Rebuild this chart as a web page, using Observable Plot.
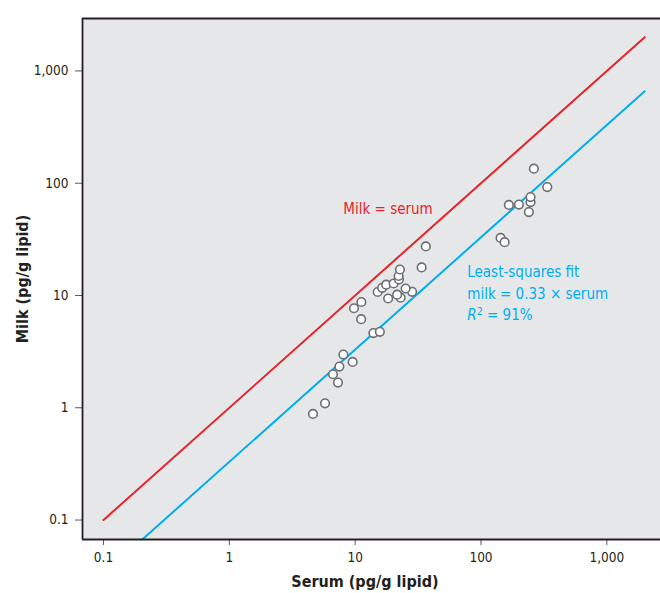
<!DOCTYPE html>
<html><head><meta charset="utf-8">
<script src="https://cdn.jsdelivr.net/npm/d3@7"></script>
<script src="https://cdn.jsdelivr.net/npm/@observablehq/plot@0.6"></script>
<style>body{margin:0;background:#fff;}</style>
</head><body><div id="chart"></div>
<script>
// Serum vs milk concentrations (pg/g lipid)
const serum = [4.62, 5.76, 7.30, 6.66, 7.49, 9.55, 8.06, 13.95, 15.71, 11.16,
  9.78, 11.2, 18.29, 22.98, 21.56, 28.36, 25.18, 15.09, 16.38, 17.63,
  20.22, 22.28, 22.16, 22.69, 33.75, 36.43, 143.1, 154.0, 240.2, 166.6,
  200.0, 247.6, 247.6, 336.3, 263.2];
const milk = [0.882, 1.096, 1.676, 1.988, 2.328, 2.563, 2.978, 4.63, 4.75, 6.15,
  7.70, 8.75, 9.40, 9.56, 10.16, 10.79, 11.54, 10.74, 11.71, 12.48,
  12.79, 13.89, 14.92, 17.05, 17.77, 27.35, 32.56, 29.87, 55.3, 64.1,
  64.5, 67.9, 75.2, 92.4, 134.8];

const xTicks = [0.1, 1, 10, 100, 1000];
const xTickLabels = ["0.1", "1", "10", "100", "1,000"];
const yTicks = [0.1, 1, 10, 100, 1000];
const yTickLabels = ["0.1", "1", "10", "100", "1,000"];

const identityX = [0.1, 2000];
const identityY = [0.1, 2000];
const fitX = [0.2, 2000];
const fitY = [0.066, 660];

const xLabel = "Serum (pg/g lipid)";
const yLabel = "Milk (pg/g lipid)";
const identityNote = [{text: "Milk = serum", x: 8.05, y: 58.6}];
const fitNote = [
  {text: "Least-squares fit", x: 77.8, y: 15.97},
  {text: "milk = 0.33 × serum", x: 77.8, y: 10.23},
  {text: "R2 = 91%", x: 77.8, y: 6.74}
];

const xDomain = [0.0681, 2670];
const yDomain = [0.0671, 2932];

const points = serum.map((s, i) => ({serum: s, milk: milk[i]}));
const idLine = identityX.map((x, i) => ({x, y: identityY[i]}));
const fitLine = fitX.map((x, i) => ({x, y: fitY[i]}));

const RED = "#e5232b";
const BLUE = "#00aeef";

const plot = Plot.plot({
  width: 660,
  height: 593,
  marginLeft: 82,
  marginTop: 18,
  marginBottom: 54,
  marginRight: 0,
  style: {fontFamily: "'Liberation Sans Narrow', 'DejaVu Sans Condensed', 'Roboto', sans-serif", fontSize: "13.5px", background: "white", color: "#231f20"},
  x: {type: "log", domain: xDomain},
  y: {type: "log", domain: yDomain},
  marks: [
    Plot.frame({fill: "#e6e7e8", stroke: "none"}),
    Plot.line(idLine, {x: "x", y: "y", stroke: RED, strokeWidth: 2, clip: "frame"}),
    Plot.line(fitLine, {x: "x", y: "y", stroke: BLUE, strokeWidth: 2, clip: "frame"}),
    Plot.dot(points, {x: "serum", y: "milk", r: 4.3, fill: "white", stroke: "#6d6e71", strokeWidth: 1.6}),
    Plot.text(identityNote, {x: "x", y: "y", text: "text", fill: RED, textAnchor: "start", fontSize: 15}),
    Plot.text(fitNote, {x: "x", y: "y", text: "text", fill: BLUE, textAnchor: "start", fontSize: 15}),
    Plot.axisX({ticks: xTicks, tickFormat: (d) => xTickLabels[xTicks.indexOf(d)], tickSize: 6, tickPadding: 7, stroke: "#58595b", fill: "#231f20", label: null}),
    Plot.axisY({ticks: yTicks, tickFormat: (d) => yTickLabels[yTicks.indexOf(d)], tickSize: 7, tickPadding: 7, stroke: "#58595b", fill: "#231f20", label: null}),
    Plot.ruleX([xDomain[0]], {stroke: "#231f20", strokeWidth: 1.8}),
    Plot.ruleY([yDomain[0]], {stroke: "#231f20", strokeWidth: 1.8}),
    Plot.ruleY([yDomain[1]], {stroke: "#231f20", strokeWidth: 1.8}),
    Plot.text([xLabel], {frameAnchor: "bottom", textAnchor: "middle", lineAnchor: "middle", dx: -6.6, dy: 42, fontWeight: "bold", fontSize: 16, fill: "#231f20"}),
    Plot.text([yLabel], {frameAnchor: "left", textAnchor: "middle", lineAnchor: "middle", dx: -60, rotate: -90, fontWeight: "bold", fontSize: 16, fill: "#231f20"})
  ]
});

d3.select(plot).selectAll("text").filter(function() { return this.textContent === "R2 = 91%"; })
  .each(function() {
    const t = d3.select(this);
    t.text(null);
    t.append("tspan").attr("font-style", "italic").text("R");
    t.append("tspan").attr("dy", "-0.45em").attr("font-size", "0.7em").text("2");
    t.append("tspan").attr("dy", "0.315em").text(" = 91%");
  });

document.getElementById("chart").appendChild(plot);
</script>
</body></html>
